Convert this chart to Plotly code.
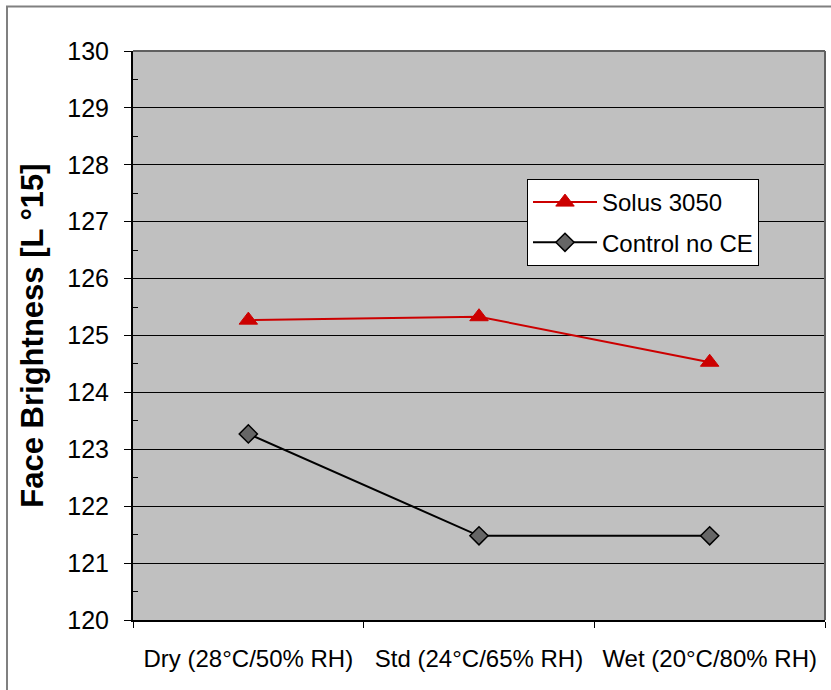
import plotly.graph_objects as go

# Conditioning climates and measured face brightness
conditions = ["Dry (28°C/50% RH)", "Std (24°C/65% RH)", "Wet (20°C/80% RH)"]
solus_3050 = [125.27, 125.33, 124.53]
control_no_ce = [123.27, 121.48, 121.48]

y_ticks = list(range(120, 131))

FONT = "Liberation Sans, Arial, sans-serif"

fig = go.Figure()

fig.add_trace(go.Scatter(
    x=conditions, y=solus_3050, name="Solus 3050",
    mode="lines+markers", legendgroup="a",
    line=dict(color="#CC0000", width=2),
    marker=dict(symbol="triangle-up", size=16, color="#CC0000",
                line=dict(color="#CC0000", width=1)),
))
fig.add_trace(go.Scatter(
    x=conditions, y=control_no_ce, name="Control no CE",
    mode="lines+markers", legendgroup="b",
    line=dict(color="#000000", width=2),
    marker=dict(symbol="diamond", size=14, color="#666666",
                line=dict(color="#000000", width=1.5)),
))

W, H = 831, 690
L, R, T, B = 133, 6, 51, 70
pw, ph = W - L - R, H - T - B

# outer chart frame (extends past right/bottom edges)
fig.add_shape(type="rect", xref="paper", yref="paper",
              x0=(7 - L) / pw, x1=(W + 5 - L) / pw,
              y0=(H - B - (H + 5)) / ph, y1=(H - B - 6.5) / ph,
              line=dict(color="#808080", width=2), fillcolor="rgba(0,0,0,0)",
              layer="below")

fig.update_layout(
    width=W, height=H,
    margin=dict(l=L, r=R, t=T, b=B),
    paper_bgcolor="white",
    plot_bgcolor="#C0C0C0",
    font=dict(family=FONT, color="black"),
    showlegend=True,
    legend=dict(
        x=(527 - L) / pw, y=(H - B - 179) / ph, xanchor="left", yanchor="top",
        bgcolor="white", bordercolor="black", borderwidth=1,
        font=dict(size=24, family=FONT), tracegroupgap=6,
        itemwidth=64,
    ),
    xaxis=dict(
        type="category", range=[-0.5, 2.5],
        showgrid=False, tickson="boundaries",
        ticks="outside", ticklen=6, tickcolor="black",
        showline=True, linecolor="black", linewidth=2, mirror=False,
        tickfont=dict(size=24, family=FONT), ticklabelstandoff=16,
    ),
    yaxis=dict(
        range=[120, 130], tickvals=y_ticks, ticktext=[str(v) for v in y_ticks],
        showgrid=True, gridcolor="black", gridwidth=1,
        ticks="outside", ticklen=7, tickcolor="black",
        minor=dict(ticks="inside", dtick=0.5, tick0=120, ticklen=5,
                   tickcolor="black", showgrid=False),
        showline=True, linecolor="black", linewidth=2,
        tickfont=dict(size=25, family=FONT), ticklabelstandoff=10,
        title=dict(text="<b>Face Brightness [L °15]</b>",
                   font=dict(size=31, family=FONT), standoff=14),
        zeroline=False,
    ),
)

# plot-area top and right border
fig.add_shape(type="line", xref="paper", yref="paper", x0=0, x1=1, y0=1, y1=1,
              line=dict(color="#606060", width=2))
fig.add_shape(type="line", xref="paper", yref="paper", x0=1, x1=1, y0=0, y1=1,
              line=dict(color="#606060", width=2))

fig.write_html("out.html")
